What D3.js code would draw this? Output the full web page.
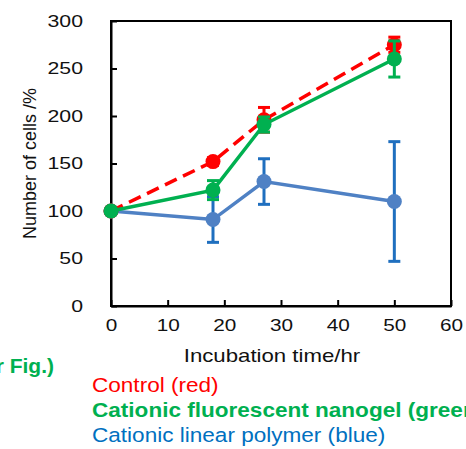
<!DOCTYPE html>
<html>
<head>
<meta charset="utf-8">
<script src="https://cdn.jsdelivr.net/npm/d3@7"></script>
<style>
  body { margin: 0; background: #fff; }
  svg { display: block; font-family: "Liberation Sans", Arial, sans-serif; }
</style>
</head>
<body>
<svg id="chart" width="466" height="449"></svg>
<script>
// values
const hours = [0, 18, 27, 50];
const controlMean = [100, 152, 196, 275];
const controlErr = [0, 4, 13, 8];
const nanogelMean = [100, 122, 191, 260];
const nanogelErr = [0, 10, 8, 19];
const polymerMean = [100, 91, 131, 110];
const polymerErr = [0, 24, 24, 63];
const xTicks = [0, 10, 20, 30, 40, 50, 60];
const yTicks = [0, 50, 100, 150, 200, 250, 300];
const legendLines = [
  { text: 'Control (red)', color: '#ff0000', bold: false },
  { text: 'Cationic fluorescent nanogel (green)', color: '#00b050', bold: true },
  { text: 'Cationic linear polymer (blue)', color: '#0070c0', bold: false }
];

const svg = d3.select('#chart');
const plot = { left: 111, right: 451, top: 21, bottom: 306 };

const x = d3.scaleLinear().domain([0, 60]).range([plot.left, plot.right]);
const y = d3.scaleLinear().domain([0, 300]).range([plot.bottom, plot.top]);

// widen text a bit, the source figure is stretched sideways
const stretch = (sel, k) => sel.each(function() {
  const w = this.getComputedTextLength();
  d3.select(this).attr('textLength', w * k).attr('lengthAdjust', 'spacingAndGlyphs');
});

// frame
svg.append('rect')
  .attr('x', plot.left).attr('y', plot.top)
  .attr('width', plot.right - plot.left).attr('height', plot.bottom - plot.top)
  .attr('fill', 'none').attr('stroke', '#000').attr('stroke-width', 2);

const xAxis = svg.append('g')
  .attr('transform', `translate(0,${plot.bottom})`)
  .call(d3.axisBottom(x).tickValues(xTicks).tickSizeInner(-6).tickSizeOuter(0).tickPadding(13));
const yAxis = svg.append('g')
  .attr('transform', `translate(${plot.left},0)`)
  .call(d3.axisLeft(y).tickValues(yTicks).tickSizeInner(-6).tickSizeOuter(0).tickPadding(28));

[xAxis, yAxis].forEach(ax => {
  ax.select('.domain').attr('stroke', '#000').attr('stroke-width', 2);
  ax.selectAll('.tick line').attr('stroke', '#000').attr('stroke-width', 2);
  ax.selectAll('.tick text').attr('font-size', 17).attr('fill', '#111')
    .attr('font-family', '"Liberation Sans", Arial, sans-serif');
});
xAxis.selectAll('.tick text').call(stretch, 1.22);
yAxis.selectAll('.tick text').call(stretch, 1.25);

// axis titles
svg.append('text')
  .attr('x', 272).attr('y', 362)
  .attr('text-anchor', 'middle').attr('font-size', 18.5).attr('fill', '#111')
  .text('Incubation time/hr')
  .call(stretch, 1.2);

svg.append('text')
  .attr('transform', `translate(36,${(plot.top + plot.bottom) / 2}) rotate(-90)`)
  .attr('text-anchor', 'middle').attr('font-size', 18).attr('fill', '#111')
  .text('Number of cells /%');

// series
const series = [
  { mean: polymerMean, err: polymerErr, line: '#4f81c4', bar: '#1f6fbf', dash: null },
  { mean: controlMean, err: controlErr, line: '#ff0000', bar: '#ff0000', dash: '13,7' },
  { mean: nanogelMean, err: nanogelErr, line: '#00b050', bar: '#00b050', dash: null }
];

const line = d3.line().x(d => x(d.h)).y(d => y(d.v));

series.forEach(s => {
  const pts = hours.map((h, i) => ({ h, v: s.mean[i], e: s.err[i] }));
  const g = svg.append('g');

  const bars = g.selectAll('.err').data(pts.filter(d => d.e > 0)).enter().append('g')
    .attr('stroke', s.bar).attr('stroke-width', 3);
  bars.append('line')
    .attr('x1', d => x(d.h)).attr('x2', d => x(d.h))
    .attr('y1', d => y(d.v - d.e)).attr('y2', d => y(d.v + d.e));
  bars.append('line')
    .attr('x1', d => x(d.h) - 6).attr('x2', d => x(d.h) + 6)
    .attr('y1', d => y(d.v + d.e)).attr('y2', d => y(d.v + d.e));
  bars.append('line')
    .attr('x1', d => x(d.h) - 6).attr('x2', d => x(d.h) + 6)
    .attr('y1', d => y(d.v - d.e)).attr('y2', d => y(d.v - d.e));

  g.append('path')
    .datum(pts)
    .attr('d', line)
    .attr('fill', 'none')
    .attr('stroke', s.line)
    .attr('stroke-width', 3.5)
    .attr('stroke-dasharray', s.dash);

  g.selectAll('circle').data(pts).enter().append('circle')
    .attr('cx', d => x(d.h)).attr('cy', d => y(d.v))
    .attr('r', 7.5)
    .attr('fill', s.line);
});

// legend text below the chart
svg.append('text')
  .attr('x', 54).attr('y', 373)
  .attr('text-anchor', 'end').attr('font-size', 21).attr('font-weight', 'bold')
  .attr('fill', '#00b050')
  .text('(Upper Fig.)');

svg.selectAll('.legend').data(legendLines).enter().append('text')
  .attr('class', 'legend')
  .attr('x', 92).attr('y', (d, i) => 392 + i * 25)
  .attr('font-size', 20.5)
  .attr('font-weight', d => d.bold ? 'bold' : 'normal')
  .attr('fill', d => d.color)
  .text(d => d.text)
  .call(stretch, 1.1);
</script>
</body>
</html>
